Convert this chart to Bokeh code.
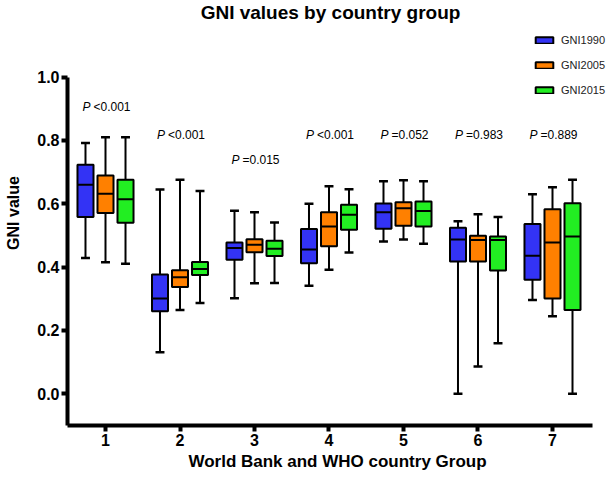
import numpy as np
from bokeh.plotting import figure
from bokeh.models import (Range1d, FixedTicker, NumeralTickFormatter, Label,
                          Legend, LegendItem)
from bokeh.core.properties import value
from bokeh.embed import file_html
from bokeh.resources import INLINE

# ---------------- data ----------------
groups = [1, 2, 3, 4, 5, 6, 7]
series = ["GNI1990", "GNI2005", "GNI2015"]

gni1990_min = [0.429, 0.131, 0.302, 0.341, 0.481, 0.000, 0.296]
gni1990_q1  = [0.558, 0.261, 0.423, 0.412, 0.521, 0.418, 0.360]
gni1990_med = [0.660, 0.301, 0.460, 0.456, 0.573, 0.487, 0.436]
gni1990_q3  = [0.723, 0.377, 0.478, 0.520, 0.601, 0.524, 0.536]
gni1990_max = [0.792, 0.645, 0.578, 0.600, 0.671, 0.545, 0.630]

gni2005_min = [0.415, 0.265, 0.349, 0.392, 0.487, 0.086, 0.245]
gni2005_q1  = [0.571, 0.337, 0.447, 0.466, 0.531, 0.418, 0.301]
gni2005_med = [0.632, 0.368, 0.471, 0.528, 0.586, 0.486, 0.478]
gni2005_q3  = [0.689, 0.390, 0.488, 0.573, 0.605, 0.499, 0.583]
gni2005_max = [0.810, 0.676, 0.573, 0.655, 0.674, 0.567, 0.652]

gni2015_min = [0.411, 0.287, 0.350, 0.446, 0.474, 0.160, 0.000]
gni2015_q1  = [0.540, 0.375, 0.435, 0.518, 0.528, 0.389, 0.265]
gni2015_med = [0.614, 0.394, 0.458, 0.565, 0.577, 0.486, 0.497]
gni2015_q3  = [0.676, 0.416, 0.483, 0.597, 0.607, 0.497, 0.602]
gni2015_max = [0.810, 0.640, 0.541, 0.646, 0.671, 0.558, 0.676]

p_signs  = ["<", "<", "=", "<", "=", "=", "="]
p_values = ["0.001", "0.001", "0.015", "0.001", "0.052", "0.983", "0.889"]

y_ticks = [0.0, 0.2, 0.4, 0.6, 0.8, 1.0]

# ---------------- layout / style ----------------
colors = ["#3333F5", "#FF8000", "#22EE22"]
offsets = [-0.2686, 0.0, 0.2686]
box_w = 0.215
cap_w = 0.12
p_label_y = [0.905, 0.816, 0.737, 0.816, 0.816, 0.816, 0.816]
FONT = "Liberation Sans"

stats = [
    (gni1990_min, gni1990_q1, gni1990_med, gni1990_q3, gni1990_max),
    (gni2005_min, gni2005_q1, gni2005_med, gni2005_q3, gni2005_max),
    (gni2015_min, gni2015_q1, gni2015_med, gni2015_q3, gni2015_max),
]

# frame covers the whole canvas above/right of the axes; axes limited by bounds
p = figure(width=607, height=475,
           x_range=Range1d(0.4899, 7.7383), y_range=Range1d(-0.1001, 1.2419),
           output_backend="svg", toolbar_location=None,
           min_border_left=67, min_border_right=0,
           min_border_top=0, min_border_bottom=50)
p.outline_line_color = None
p.grid.visible = False
p.background_fill_color = "white"

legend_items = []
for i, (mn, q1, md, q3, mx) in enumerate(stats):
    xs = np.array(groups, dtype=float) + offsets[i]
    mn, q1, md, q3, mx = map(np.array, (mn, q1, md, q3, mx))
    # whiskers
    p.segment(x0=xs, y0=q3, x1=xs, y1=mx, line_color="black", line_width=2)
    p.segment(x0=xs, y0=q1, x1=xs, y1=mn, line_color="black", line_width=2)
    # caps
    p.segment(x0=xs - cap_w / 2, y0=mx, x1=xs + cap_w / 2, y1=mx,
              line_color="black", line_width=2.5)
    p.segment(x0=xs - cap_w / 2, y0=mn, x1=xs + cap_w / 2, y1=mn,
              line_color="black", line_width=2.5)
    # boxes
    r = p.vbar(x=xs, width=box_w, top=q3, bottom=q1, fill_color=colors[i],
               line_color="black", line_width=2)
    # medians
    p.segment(x0=xs - box_w / 2, y0=md, x1=xs + box_w / 2, y1=md,
              line_color="black", line_width=2)
    legend_items.append(LegendItem(label=series[i], renderers=[r]))

# P-value labels
p.text(x=groups, y=p_label_y, text=["P"] * len(groups), x_offset=-23,
       text_font=value(FONT), text_font_style="italic", text_font_size="12px",
       text_baseline="middle", text_align="left", text_color="black")
p.text(x=groups, y=p_label_y, text=[s + v for s, v in zip(p_signs, p_values)],
       x_offset=-12, text_font=value(FONT), text_font_size="12px",
       text_baseline="middle", text_align="left", text_color="black")

# Axes
for ax in (p.xaxis[0], p.yaxis[0]):
    ax.axis_line_width = 4
    ax.axis_line_color = "black"
    ax.major_tick_line_width = 4
    ax.major_tick_line_color = "black"
    ax.major_tick_out = 6
    ax.major_tick_in = 0
    ax.minor_tick_line_color = None
    ax.major_label_text_font = FONT
    ax.major_label_text_font_style = "bold"
    ax.major_label_text_font_size = "16px"
    ax.major_label_text_color = "black"
    ax.axis_label_text_font = FONT
    ax.axis_label_text_font_style = "bold"
    ax.axis_label_text_color = "black"

p.xaxis.bounds = (0.49, 7.54)
p.yaxis.bounds = (-0.1, 1.0)
p.xaxis.ticker = FixedTicker(ticks=groups)
p.yaxis.ticker = FixedTicker(ticks=y_ticks)
p.yaxis.formatter = NumeralTickFormatter(format="0.0")
p.xaxis.axis_label = "World Bank and WHO country Group"
p.yaxis.axis_label = "GNI value"
p.xaxis.axis_label_text_font_size = "17px"
p.yaxis.axis_label_text_font_size = "16px"
p.xaxis.major_label_standoff = 2
p.yaxis.major_label_standoff = 2
p.xaxis.axis_label_standoff = 3
p.yaxis.axis_label_standoff = 12

# Title
title = Label(x=4.02, y=1.204, text="GNI values by country group",
              text_align="center", text_baseline="middle",
              text_font=FONT, text_font_style="bold", text_font_size="19px",
              text_color="black")
p.add_layout(title)

# Legend
legend = Legend(items=legend_items, location=(466, 329),
                glyph_width=22, glyph_height=8, label_height=13, spacing=12,
                label_standoff=6, padding=0, margin=0,
                border_line_color=None, background_fill_alpha=0,
                label_text_font=FONT, label_text_font_size="11px",
                label_text_color="#222222")
p.add_layout(legend)

open("out.html", "w").write(file_html(p, INLINE))
